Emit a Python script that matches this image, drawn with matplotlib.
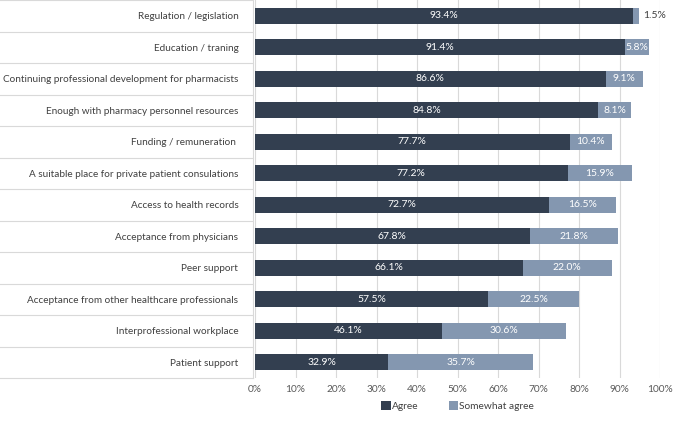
import numpy as np
import matplotlib.pyplot as plt
from matplotlib.transforms import blended_transform_factory

# ==============================================================================
# DATA
# ==============================================================================
categories = [
    "Regulation / legislation",
    "Education / traning",
    "Continuing professional development for pharmacists",
    "Enough with pharmacy personnel resources",
    "Funding / remuneration ",
    "A suitable place for private patient consulations",
    "Access to health records",
    "Acceptance from physicians",
    "Peer support",
    "Acceptance from other healthcare professionals",
    "Interprofessional workplace",
    "Patient support",
]
agree    = [93.4, 91.4, 86.6, 84.8, 77.7, 77.2, 72.7, 67.8, 66.1, 57.5, 46.1, 32.9]
somewhat = [1.5, 5.8, 9.1, 8.1, 10.4, 15.9, 16.5, 21.8, 22.0, 22.5, 30.6, 35.7]
xticks   = np.arange(0, 101, 10)

c_agree = "#333f50"
c_some  = "#8497b0"
grid_c  = "#d9d9d9"

plt.rcParams['font.family'] = ['Lato', 'DejaVu Sans']

fig = plt.figure(figsize=(6.76, 4.23), dpi=100)
ax = fig.add_axes([255/676, 1 - 378/423, 405/676, 378/423])

n = len(categories)
y = np.arange(n)
ax.barh(y, agree, height=0.52, color=c_agree, label="Agree", zorder=3)
ax.barh(y, somewhat, left=agree, height=0.52, color=c_some,
        label="Somewhat agree", zorder=3)

for i in range(n):
    ax.text(agree[i] / 2, y[i], f"{agree[i]:.1f}%", color="white",
            ha="center", va="center", fontsize=7.5, zorder=4)
    if somewhat[i] < 3:
        ax.text(agree[i] + somewhat[i] + 1, y[i], f"{somewhat[i]:.1f}%",
                color="#404040", ha="left", va="center", fontsize=7.5, zorder=4)
    else:
        ax.text(agree[i] + somewhat[i] / 2, y[i], f"{somewhat[i]:.1f}%",
                color="white", ha="center", va="center", fontsize=7.5, zorder=4)

ax.set_ylim(n - 0.5, -0.5)
ax.set_xlim(0, 100)
ax.set_xticks(xticks)
ax.set_xticklabels([f"{t}%" for t in xticks], fontsize=7.3, color="#595959")
ax.set_yticks(y)
ax.set_yticklabels(categories, fontsize=7.2, color="#404040")
ax.tick_params(axis="both", length=0)
ax.tick_params(axis="y", pad=12)
ax.tick_params(axis="x", pad=5)
ax.grid(axis="x", color=grid_c, lw=0.8, zorder=0)
for s in ax.spines.values():
    s.set_visible(False)

# table-like separators on the category side
tr = blended_transform_factory(fig.transFigure, ax.transData)
for b in np.arange(n + 1) - 0.5:
    ax.plot([0, 253/676], [b, b], color=grid_c, lw=0.8, transform=tr,
            clip_on=False)
ax.plot([253/676, 253/676], [-0.5, n - 0.5], color=grid_c, lw=0.8,
        transform=tr, clip_on=False)

ax.legend(loc="center", bbox_to_anchor=(0.5, -0.075), ncol=2, frameon=False,
          fontsize=7.3, handlelength=0.9, handleheight=0.9, handletextpad=0.1,
          columnspacing=3, labelcolor="#404040")

fig.savefig("out.png", dpi=100)
